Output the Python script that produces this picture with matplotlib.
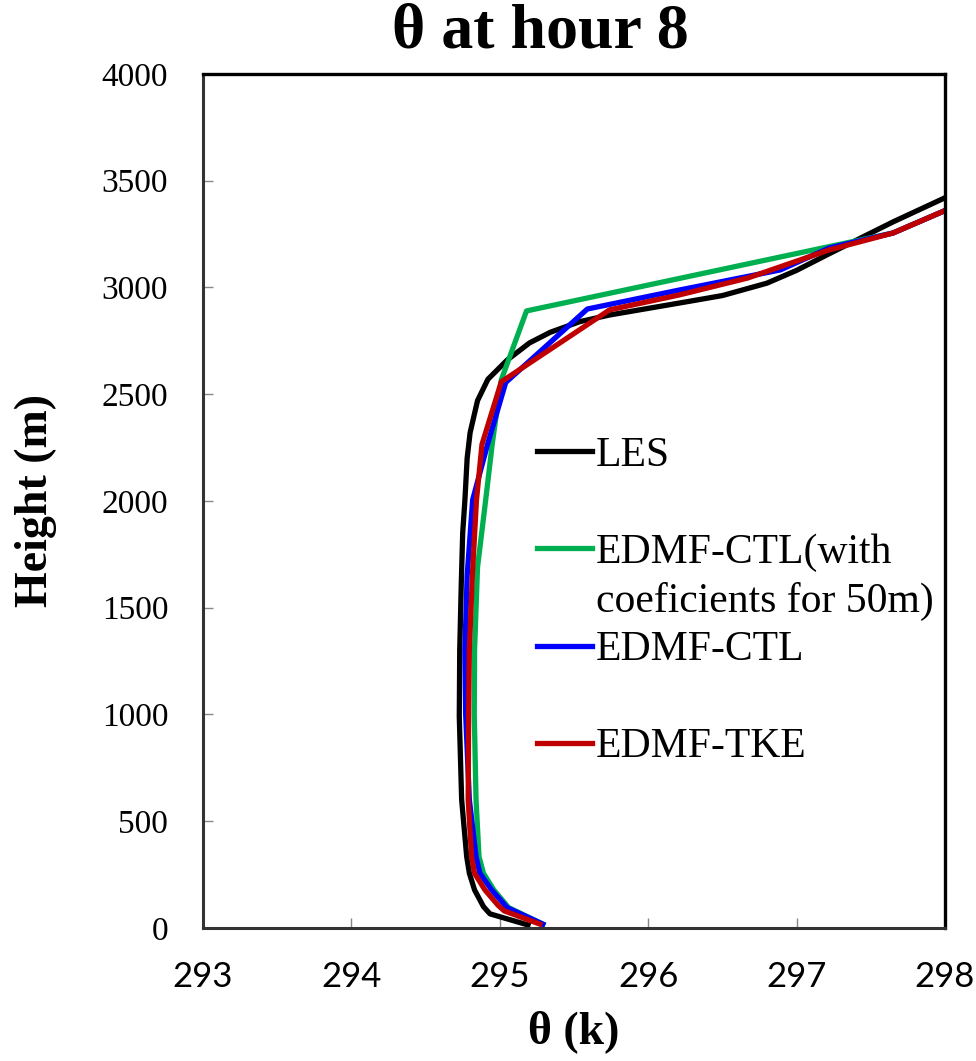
import matplotlib
matplotlib.use('Agg')
import matplotlib.pyplot as plt
from matplotlib.lines import Line2D

# potential temperature profiles (K) against height (m), hour 8
les_z = [14, 66, 100, 178, 256, 334, 600, 990, 1302, 1600, 1850, 2005, 2200, 2320,
         2470, 2570, 2660, 2740, 2790, 2840, 2871, 2927, 2962, 3020, 3080, 3158, 3307, 3420]
les_th = [295.19, 294.934, 294.89, 294.83, 294.795, 294.777, 294.743, 294.727, 294.73,
          294.74, 294.75, 294.765, 294.78, 294.80, 294.85, 294.92, 295.05, 295.20,
          295.34, 295.54, 295.74, 296.21, 296.5, 296.8, 297.0, 297.22, 297.65, 298.0]

ctl50_z = [18, 95, 178, 256, 334, 600, 1000, 1302, 1690, 2005, 2272, 2567, 2890, 3255, 3360]
ctl50_th = [295.29, 295.06, 294.96, 294.89, 294.86, 294.84, 294.828, 294.83, 294.85,
            294.905, 294.95, 295.01, 295.18, 297.65, 298.0]

ctl_z = [18, 95, 178, 256, 334, 600, 1000, 1302, 1650, 2005, 2271, 2555, 2899, 2988,
         3082, 3185, 3255, 3360]
ctl_th = [295.29, 295.05, 294.945, 294.866, 294.84, 294.795, 294.77, 294.765, 294.78,
          294.817, 294.92, 295.04, 295.59, 296.21, 296.89, 297.22, 297.65, 298.0]

tke_z = [18, 80, 105, 178, 256, 334, 600, 1000, 1302, 1650, 2005, 2265, 2558, 2895,
         2965, 3044, 3176, 3255, 3360]
tke_th = [295.27, 295.03, 294.99, 294.90, 294.83, 294.81, 294.787, 294.79, 294.795,
          294.815, 294.843, 294.88, 295.01, 295.74, 296.21, 296.67, 297.22, 297.65, 298.0]

xticks = [293, 294, 295, 296, 297, 298]
yticks = list(range(0, 4001, 500))

serif = 'Liberation Serif'

fig = plt.figure(figsize=(9.76, 10.61), dpi=100)
ax = fig.add_axes([0.208, 0.1254, 0.7602, 0.8049])

lw = 3.8
l_les, = ax.plot(les_th, les_z, color='black', lw=lw)
l_c50, = ax.plot(ctl50_th, ctl50_z, color='#00B050', lw=lw)
l_ctl, = ax.plot(ctl_th, ctl_z, color='#0000FF', lw=lw)
l_tke, = ax.plot(tke_th, tke_z, color='#C00000', lw=lw)

ax.set_xlim(293, 298)
ax.set_ylim(0, 4000)
ax.set_xticks(xticks)
ax.set_yticks(yticks)

for side in ['top', 'right']:
    ax.spines[side].set_color('black')
    ax.spines[side].set_linewidth(2.4)
for side in ['left', 'bottom']:
    ax.spines[side].set_color('#333333')
    ax.spines[side].set_linewidth(2.2)

ax.tick_params(direction='in', length=7.5, width=1, color='#888888')
ax.tick_params(axis='y', pad=25)
ax.tick_params(axis='x', pad=24)
for t in ax.get_yticklabels():
    t.set_fontfamily(serif)
    t.set_fontsize(24)
for t in ax.get_xticklabels():
    t.set_fontfamily('Lato')
    t.set_fontsize(25)

ax.set_xlabel('θ (k)', fontsize=33, fontweight='bold', fontfamily=serif)
ax.set_ylabel('Height (m)', fontsize=33, fontweight='bold', fontfamily=serif)
ax.xaxis.set_label_coords(0.5, -0.096)
ax.yaxis.set_label_coords(-0.197, 0.5)

fig.text(540 / 976, 1 - 33 / 1061, 'θ at hour 8', ha='center', va='center',
         fontsize=46, fontweight='bold', fontfamily=serif)

# evenly spaced legend rows, blank rows keep the gaps between entries
blank = Line2D([], [], linestyle='none')
handles = [l_les, blank, l_c50, blank, l_ctl, blank, l_tke]
labels = ['LES', ' ', 'EDMF-CTL(with', 'coeficients for 50m)', 'EDMF-CTL', ' ', 'EDMF-TKE']
ax.legend(handles, labels, loc='upper left', bbox_to_anchor=(0.45, 0.576),
          frameon=False, prop={'family': serif, 'size': 30}, handlelength=1.32,
          handletextpad=0.1, labelspacing=0.24, borderpad=0, borderaxespad=0)

fig.savefig('out.png', dpi=100)
